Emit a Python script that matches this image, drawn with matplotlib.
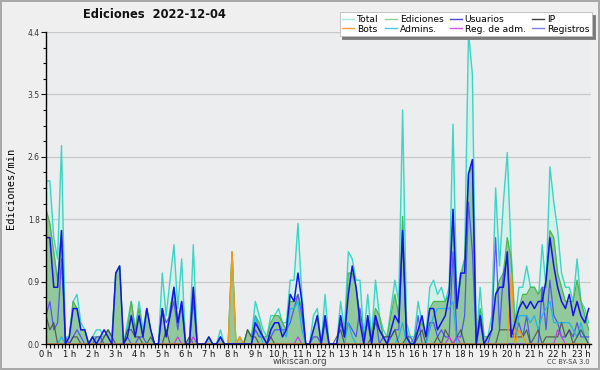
"""
Edits per minute on 2022-12-04, one value per 10-minute slot (wikiscan style chart)
"""
import numpy as np
import matplotlib
matplotlib.use("Agg")
import matplotlib.pyplot as plt
from matplotlib.lines import Line2D
from matplotlib.patches import Rectangle
from matplotlib.ticker import FixedLocator, MultipleLocator, FormatStrFormatter

# 10-minute slots starting at 00:00, edits per minute
total = [
    2.3, 2.3, 1.5, 1.2, 2.8, 0.1,
    0.1, 0.6, 0.7, 0.3, 0.2, 0.0,
    0.1, 0.2, 0.2, 0.1, 0.2,
    0.1, 1.0, 1.1, 0.0, 0.3, 0.6,
    0.2, 0.6, 0.2, 0.5, 0.2, 0.0,
    0.0, 1.0, 0.4, 0.9, 1.4, 0.5,
    1.2, 0.0, 0.0, 1.4, 0.0, 0.0,
    0.0, 0.1, 0.0, 0.0, 0.2, 0.0,
    0.0, 1.3, 0.0, 0.1, 0.0, 0.2,
    0.1, 0.6, 0.4, 0.2, 0.1,
    0.4, 0.4, 0.5, 0.3, 0.3, 0.9,
    0.9, 1.7, 0.7, 0.0, 0.0, 0.4,
    0.5, 0.0, 0.7, 0.0, 0.0, 0.0,
    0.6, 0.2, 1.3, 1.2, 0.9, 0.9,
    0.1, 0.7, 0.1, 0.9, 0.4, 0.2,
    0.1, 0.5, 0.9, 0.6, 3.3, 0.3,
    0.1, 0.1, 0.6, 0.3, 0.1,
    0.8, 0.9, 0.7, 0.8, 0.6, 0.8,
    3.1, 0.6, 1.0, 1.2, 4.4, 3.8,
    0.0, 0.8, 0.1, 0.1, 0.4, 2.2,
    1.1, 2.0, 2.7, 1.3, 0.3, 0.8,
    0.8, 1.1, 0.8, 0.8, 0.6, 1.4,
    0.8, 2.5, 2.0, 1.6, 1.0, 0.8,
    0.8, 0.6, 1.2, 0.6, 0.5, 0.3,
]

ediciones = [
    1.9, 1.7, 1.3, 0.9, 1.6, 0.0,
    0.1, 0.6, 0.5, 0.2, 0.2, 0.0,
    0.1, 0.1, 0.1, 0.1, 0.2,
    0.1, 1.0, 1.1, 0.0, 0.2, 0.6,
    0.2, 0.5, 0.1, 0.5, 0.2, 0.0,
    0.0, 0.5, 0.1, 0.5, 0.8, 0.3,
    0.5, 0.0, 0.1, 0.8, 0.0, 0.0,
    0.0, 0.1, 0.0, 0.0, 0.1, 0.0,
    0.0, 1.3, 0.0, 0.1, 0.0, 0.2,
    0.1, 0.4, 0.3, 0.1, 0.1,
    0.3, 0.4, 0.4, 0.3, 0.2, 0.6,
    0.6, 0.7, 0.5, 0.0, 0.0, 0.2,
    0.4, 0.0, 0.4, 0.0, 0.0, 0.0,
    0.3, 0.1, 1.0, 1.0, 0.8, 0.4,
    0.0, 0.4, 0.1, 0.5, 0.4, 0.1,
    0.1, 0.4, 0.7, 0.4, 1.8, 0.2,
    0.0, 0.1, 0.2, 0.3, 0.1,
    0.5, 0.6, 0.6, 0.6, 0.6, 0.7,
    1.8, 0.5, 0.9, 1.2, 2.4, 2.5,
    0.0, 0.5, 0.1, 0.1, 0.2, 0.7,
    0.9, 1.0, 1.5, 1.2, 0.2, 0.5,
    0.7, 0.7, 0.8, 0.8, 0.7, 0.8,
    0.8, 1.6, 1.5, 1.0, 0.8, 0.6,
    0.6, 0.6, 0.9, 0.6, 0.4, 0.2,
]

usuarios = [
    1.5, 1.5, 0.8, 0.8, 1.6, 0.0,
    0.1, 0.5, 0.5, 0.2, 0.2, 0.0,
    0.1, 0.0, 0.1, 0.2, 0.1,
    0.0, 1.0, 1.1, 0.0, 0.1, 0.4,
    0.1, 0.4, 0.1, 0.5, 0.2, 0.0,
    0.0, 0.5, 0.1, 0.4, 0.8, 0.3,
    0.6, 0.0, 0.0, 0.8, 0.0, 0.0,
    0.0, 0.1, 0.0, 0.0, 0.1, 0.0,
    0.0, 0.0, 0.0, 0.0, 0.0, 0.0,
    0.0, 0.3, 0.2, 0.1, 0.0,
    0.2, 0.3, 0.3, 0.1, 0.2, 0.7,
    0.6, 1.0, 0.6, 0.0, 0.0, 0.2,
    0.4, 0.0, 0.4, 0.0, 0.0, 0.0,
    0.4, 0.1, 0.7, 1.1, 0.8, 0.3,
    0.0, 0.4, 0.0, 0.4, 0.2, 0.1,
    0.0, 0.2, 0.4, 0.3, 1.6, 0.1,
    0.0, 0.0, 0.2, 0.4, 0.1,
    0.5, 0.5, 0.2, 0.3, 0.4, 0.7,
    1.9, 0.5, 1.0, 1.0, 2.4, 2.6,
    0.0, 0.4, 0.0, 0.1, 0.2, 0.7,
    0.8, 0.8, 1.3, 0.1, 0.3, 0.5,
    0.6, 0.5, 0.6, 0.5, 0.6, 0.6,
    0.9, 1.5, 1.1, 0.8, 0.6, 0.5,
    0.7, 0.4, 0.6, 0.4, 0.3, 0.5,
]

ip = [
    0.4, 0.2, 0.3, 0.0, 0.0, 0.0,
    0.0, 0.1, 0.1, 0.0, 0.0, 0.0,
    0.1, 0.0, 0.0, 0.1, 0.2,
    0.1, 0.0, 0.0, 0.0, 0.2, 0.2,
    0.1, 0.1, 0.0, 0.0, 0.1, 0.0,
    0.0, 0.0, 0.2, 0.0, 0.0, 0.0,
    0.0, 0.0, 0.1, 0.0, 0.0, 0.0,
    0.0, 0.0, 0.0, 0.0, 0.0, 0.0,
    0.0, 0.0, 0.0, 0.0, 0.0, 0.2,
    0.1, 0.1, 0.0, 0.0, 0.0,
    0.1, 0.0, 0.0, 0.0, 0.0, 0.0,
    0.0, 0.0, 0.0, 0.0, 0.0, 0.0,
    0.0, 0.0, 0.0, 0.0, 0.0, 0.1,
    0.2, 0.0, 0.0, 0.0, 0.0, 0.0,
    0.0, 0.0, 0.1, 0.3, 0.2, 0.1,
    0.1, 0.1, 0.2, 0.0, 0.0, 0.1,
    0.0, 0.0, 0.1, 0.2, 0.0,
    0.0, 0.0, 0.1, 0.0, 0.2, 0.1,
    0.0, 0.1, 0.2, 0.0, 0.0, 0.0,
    0.0, 0.0, 0.0, 0.0, 0.0, 0.0,
    0.2, 0.2, 0.2, 0.2, 0.1, 0.1,
    0.1, 0.2, 0.0, 0.1, 0.2, 0.0,
    0.1, 0.1, 0.1, 0.1, 0.3, 0.1,
    0.2, 0.0, 0.1, 0.2, 0.1, 0.0,
]

bots = [0.0] * 48 + [1.3, 0.0, 0.1] + [0.0] * 69 + [1.0, 0.0, 0.2, 0.1] + [0.0] * 17

admins = [
    0.0, 0.0, 0.0, 0.0, 0.1, 0.0,
] + [0.0] * 47 + [
    0.0, 0.4, 0.2, 0.0, 0.0,
    0.2, 0.3, 0.3, 0.2, 0.1, 0.5,
    0.5, 0.6, 0.2, 0.0, 0.0, 0.0,
    0.0, 0.0, 0.0, 0.0, 0.0, 0.0,
    0.0, 0.0, 0.3, 0.1, 0.0, 0.0,
    0.0, 0.0, 0.0, 0.0, 0.0, 0.0,
    0.0, 0.0, 0.0, 0.1, 0.3, 0.0,
    0.0, 0.0, 0.0, 0.0, 0.0,
    0.2, 0.4, 0.5, 0.5, 0.5, 0.5,
    0.6, 0.0, 0.0, 0.0, 0.0, 0.0,
    0.0, 0.0, 0.0, 0.0, 0.0, 0.0,
    0.0, 0.0, 0.0, 0.0, 0.0, 0.4,
    0.4, 0.4, 0.3, 0.4, 0.2, 0.4,
    0.5, 0.6, 0.3, 0.3, 0.3, 0.3,
    0.3, 0.2, 0.1, 0.3, 0.1, 0.0,
]

reg_adm = ([0.0] * 34 + [0.1, 0.0, 0.0, 0.0, 0.1] + [0.0] * 26 + [0.1]
           + [0.0] * 38 + [0.1, 0.0, 0.1] + [0.0] * 25 + [0.2, 0.1] + [0.0] * 7)

registros = [
    0.4, 0.6, 0.2, 0.3, 1.2, 0.1,
    0.0, 0.1, 0.2, 0.1, 0.0, 0.0,
    0.0, 0.1, 0.1, 0.0, 0.0,
    0.0, 0.0, 0.0, 0.0, 0.1, 0.0,
    0.0, 0.1, 0.1, 0.0, 0.0, 0.0,
    0.0, 0.5, 0.3, 0.4, 0.6, 0.2,
    0.6, 0.0, 0.0, 0.6, 0.0, 0.0,
    0.0, 0.0, 0.0, 0.0, 0.1, 0.0,
    0.0, 0.0, 0.0, 0.0, 0.0, 0.0,
    0.0, 0.2, 0.1, 0.1, 0.0,
    0.1, 0.2, 0.2, 0.2, 0.2, 0.3,
    0.5, 0.7, 0.4, 0.0, 0.0, 0.1,
    0.1, 0.0, 0.3, 0.0, 0.0, 0.0,
    0.3, 0.1, 0.3, 0.2, 0.1, 0.5,
    0.1, 0.3, 0.0, 0.4, 0.0, 0.1,
    0.0, 0.1, 0.2, 0.2, 1.5, 0.1,
    0.1, 0.0, 0.4, 0.0, 0.0,
    0.3, 0.3, 0.1, 0.2, 0.1, 0.1,
    1.3, 0.1, 0.1, 0.4, 2.0, 1.3,
    0.0, 0.3, 0.0, 0.0, 0.2, 1.5,
    0.2, 1.0, 1.2, 0.1, 0.1, 0.3,
    0.1, 0.4, 0.0, 0.0, 0.0, 0.8,
    0.2, 0.9, 0.4, 0.3, 0.1, 0.1,
    0.2, 0.1, 0.3, 0.1, 0.1, 0.1,
]

hour_labels = ["%d h" % h for h in range(24)]
y_max = 4.4
title = "Ediciones  2022-12-04"


def main():
    x = np.arange(len(total))

    fig = plt.figure(figsize=(6, 3.7), dpi=100, facecolor="#efeff0")
    ax = fig.add_axes([46 / 600, 1 - 344 / 370, 545 / 600, 312 / 370])
    ax.set_facecolor("#ecedef")

    # filled areas first
    ax.fill_between(x, total, color="#d3f1ea", lw=0, zorder=2)
    ax.plot(x, total, color="#3cd4c4", lw=1.0, zorder=3)
    ax.fill_between(x, ediciones, color="#92c99c", lw=0, zorder=4)
    ax.plot(x, ediciones, color="#4cb44c", lw=0.9, zorder=5)

    # plain lines
    ax.plot(x, registros, color="#4b4bf5", lw=0.9, alpha=0.9, zorder=6)
    ax.plot(x, admins, color="#22b4e4", lw=0.9, zorder=6)
    ax.plot(x, ip, color="#404040", lw=0.9, alpha=0.75, zorder=6)
    ax.plot(x, reg_adm, color="#c83ce6", lw=0.9, zorder=6)
    ax.plot(x, bots, color="#f59c1a", lw=1.0, zorder=7)
    ax.plot(x, usuarios, color="#1414e6", lw=1.1, zorder=8)

    # axes
    ax.set_xlim(0, len(total) - 0.4)
    ax.set_ylim(0, y_max)
    ax.xaxis.set_major_locator(FixedLocator(np.arange(24) * 6))
    ax.xaxis.set_minor_locator(MultipleLocator(1))
    ax.set_xticklabels(hour_labels)
    ax.yaxis.set_major_locator(FixedLocator(np.linspace(0, y_max, 6)))
    ax.yaxis.set_minor_locator(MultipleLocator(y_max / 20))
    ax.yaxis.set_major_formatter(FormatStrFormatter("%.1f"))

    ax.tick_params(axis="x", which="both", length=3, width=0.8, pad=1,
                   labelsize=6, colors="#111111")
    ax.tick_params(axis="y", which="major", length=3.5, width=0.8, pad=1,
                   labelsize=5.5, colors="#111111", labelcolor="#333333")
    ax.tick_params(axis="y", which="minor", length=2, width=0.8)

    for side in ("top", "right"):
        ax.spines[side].set_visible(False)
    for side in ("left", "bottom"):
        ax.spines[side].set_linewidth(1.0)
        ax.spines[side].set_zorder(10)
    ax.grid(axis="y", which="major", color="#c8c8c8", lw=0.9, zorder=1)
    ax.set_axisbelow(True)

    # texts
    fig.text(154 / 600, 1 - 15 / 370, title, ha="center", va="center",
             fontsize=8.3, fontweight="bold", color="#111111")
    fig.text(11 / 600, 1 - 188 / 370, "Ediciones/min", rotation=90,
             ha="center", va="center", family="DejaVu Sans Mono", fontsize=7.5)
    fig.text(0.5, 1 - 362 / 370, "wikiscan.org", ha="center", va="center",
             fontsize=6.3, color="#444444")
    fig.text(590 / 600, 1 - 362 / 370, "CC BY-SA 3.0", ha="right", va="center",
             fontsize=4.8, color="#444444")

    # legend, filled column by column to get two rows of four
    entries = [
        ("Total", "#a8e8de"), ("Bots", "#f4a040"),
        ("Ediciones", "#8fd08f"), ("Admins.", "#48c8e0"),
        ("Usuarios", "#4848e0"), ("Reg. de adm.", "#d050e8"),
        ("IP", "#404040"), ("Registros", "#8080f0"),
    ]
    handles = [Line2D([], [], color=c, lw=1.0) for _, c in entries]
    leg = fig.legend(handles, [n for n, _ in entries], ncol=4,
                     loc="upper right", bbox_to_anchor=(592 / 600, 1 - 12 / 370),
                     fontsize=6.6, frameon=True, fancybox=False,
                     shadow={"color": "#7a7a7a", "alpha": 1},
                     edgecolor="#bbbbbb", framealpha=1, handlelength=1.3,
                     handletextpad=0.3, columnspacing=0.7, labelspacing=0.1,
                     borderpad=0.3, borderaxespad=0)
    leg.get_frame().set_linewidth(0.6)
    leg.set_zorder(20)

    # outer border of the picture
    fig.patches.append(Rectangle((0.0015, 0.0025), 0.997, 0.995,
                                 transform=fig.transFigure, fill=False,
                                 edgecolor="#a8a8a8", lw=1.4))

    fig.savefig("out.png", dpi=100, facecolor=fig.get_facecolor())


if __name__ == "__main__":
    main()
